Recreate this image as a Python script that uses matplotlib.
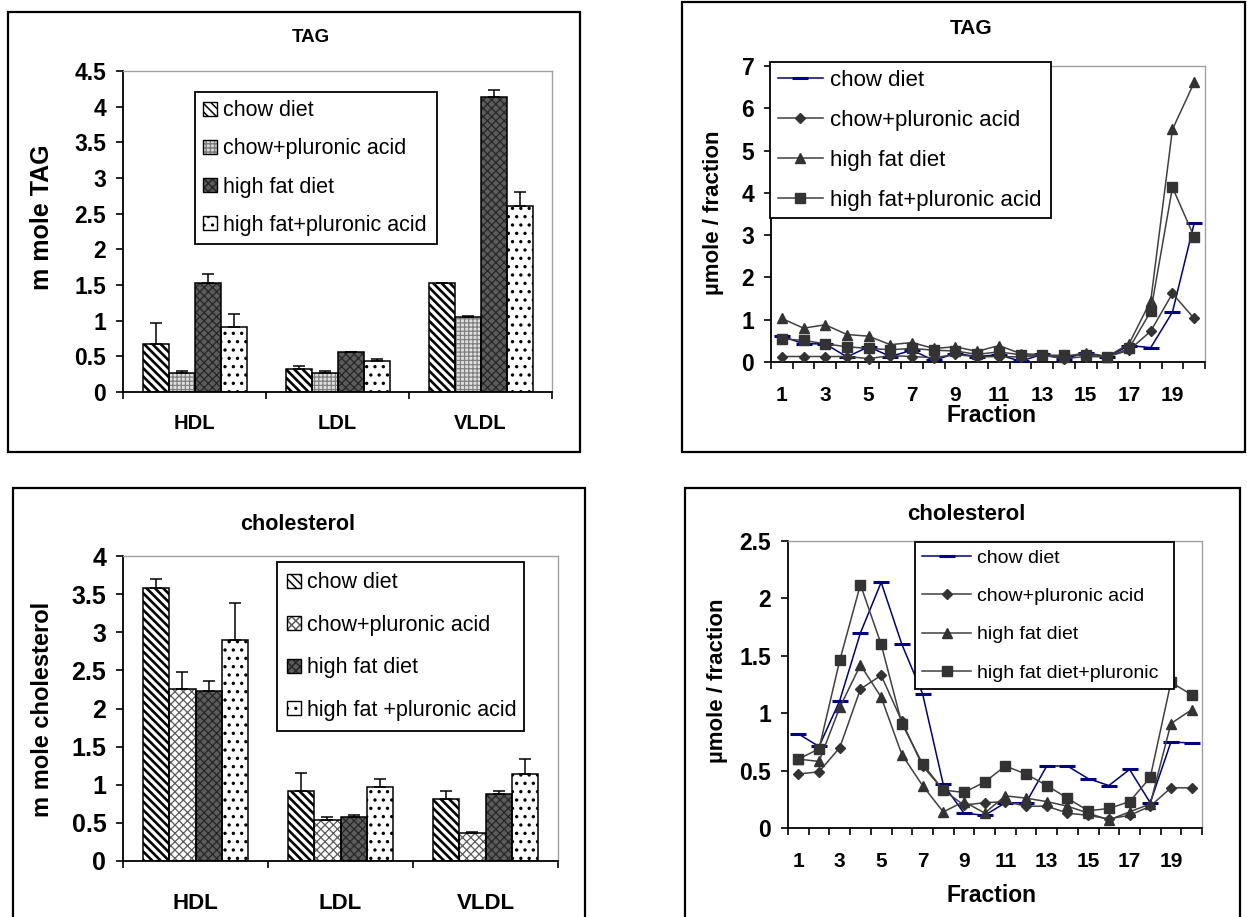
import numpy as np
import matplotlib
matplotlib.use("Agg")
import matplotlib.pyplot as plt
from matplotlib.patches import Rectangle, Patch
from matplotlib.legend_handler import HandlerTuple

plt.rcParams['font.family'] = ['Liberation Sans', 'DejaVu Sans']
plt.rcParams['hatch.linewidth'] = 1.1

# ---------------- data ----------------
series = ['chow diet', 'chow+pluronic acid', 'high fat diet', 'high fat+pluronic acid']
series_chol_bar = ['chow diet', 'chow+pluronic acid', 'high fat diet', 'high fat +pluronic acid']
series_chol_line = ['chow diet', 'chow+pluronic acid', 'high fat diet', 'high fat diet+pluronic']
classes = ['HDL', 'LDL', 'VLDL']

tag_chow = [0.67, 0.32, 1.53]
tag_chow_err = [0.30, 0.04, 0.0]
tag_chowp = [0.27, 0.27, 1.05]
tag_chowp_err = [0.02, 0.02, 0.02]
tag_hf = [1.53, 0.56, 4.14]
tag_hf_err = [0.12, 0.0, 0.09]
tag_hfp = [0.91, 0.44, 2.61]
tag_hfp_err = [0.19, 0.02, 0.19]

chol_chow = [3.58, 0.92, 0.81]
chol_chow_err = [0.12, 0.24, 0.11]
chol_chowp = [2.25, 0.54, 0.37]
chol_chowp_err = [0.23, 0.035, 0.015]
chol_hf = [2.23, 0.58, 0.88]
chol_hf_err = [0.13, 0.02, 0.04]
chol_hfp = [2.90, 0.97, 1.14]
chol_hfp_err = [0.48, 0.11, 0.20]

fractions = list(range(1, 21))
frac_tick_labels = ['1', '3', '5', '7', '9', '11', '13', '15', '17', '19']

tagf_chow = [0.61, 0.43, 0.43, 0.12, 0.36, 0.13, 0.28, 0.04, 0.20, 0.13,
             0.17, 0.02, 0.18, 0.08, 0.21, 0.12, 0.39, 0.34, 1.18, 3.28]
tagf_chowp = [0.13, 0.13, 0.13, 0.13, 0.08, 0.15, 0.13, 0.10, 0.18, 0.12,
              0.13, 0.12, 0.16, 0.08, 0.13, 0.12, 0.28, 0.73, 1.62, 1.03]
tagf_hf = [1.03, 0.80, 0.88, 0.65, 0.61, 0.41, 0.46, 0.32, 0.36, 0.25,
           0.39, 0.20, 0.17, 0.12, 0.22, 0.13, 0.43, 1.45, 5.50, 6.61]
tagf_hfp = [0.55, 0.51, 0.43, 0.36, 0.32, 0.29, 0.32, 0.28, 0.26, 0.18,
            0.24, 0.17, 0.16, 0.16, 0.16, 0.12, 0.32, 1.20, 4.13, 2.96]

cholf_chow = [0.82, 0.71, 1.11, 1.70, 2.14, 1.60, 1.17, 0.38, 0.13, 0.11,
              0.22, 0.22, 0.54, 0.54, 0.43, 0.37, 0.51, 0.22, 0.75, 0.74]
cholf_chowp = [0.47, 0.49, 0.70, 1.21, 1.33, 0.93, 0.54, 0.33, 0.20, 0.22,
               0.23, 0.19, 0.19, 0.13, 0.11, 0.08, 0.11, 0.19, 0.35, 0.35]
cholf_hf = [0.60, 0.58, 1.05, 1.42, 1.14, 0.64, 0.37, 0.14, 0.23, 0.13,
            0.28, 0.26, 0.23, 0.19, 0.13, 0.07, 0.14, 0.21, 0.91, 1.03]
cholf_hfp = [0.60, 0.69, 1.46, 2.12, 1.60, 0.91, 0.56, 0.33, 0.31, 0.40,
             0.54, 0.47, 0.37, 0.26, 0.15, 0.17, 0.23, 0.44, 1.27, 1.16]

tag_bar_yticks = [0, 0.5, 1, 1.5, 2, 2.5, 3, 3.5, 4, 4.5]
tag_bar_ylabels = ['0', '0.5', '1', '1.5', '2', '2.5', '3', '3.5', '4', '4.5']
chol_bar_yticks = [0, 0.5, 1, 1.5, 2, 2.5, 3, 3.5, 4]
chol_bar_ylabels = ['0', '0.5', '1', '1.5', '2', '2.5', '3', '3.5', '4']
tag_line_yticks = [0, 1, 2, 3, 4, 5, 6, 7]
tag_line_ylabels = ['0', '1', '2', '3', '4', '5', '6', '7']
chol_line_yticks = [0, 0.5, 1, 1.5, 2, 2.5]
chol_line_ylabels = ['0', '0.5', '1', '1.5', '2', '2.5']

# ---------------- figure ----------------
W, H = 1247, 917
fig = plt.figure(figsize=(W / 100, H / 100), dpi=100)
fig.patch.set_facecolor('white')


def fx(x):
    return x / W


def fy(y):
    return 1 - y / H


def axes_px(l, t, r, b):
    return fig.add_axes([fx(l), fy(b), (r - l) / W, (b - t) / H])


def box(l, t, r, b):
    fig.add_artist(Rectangle((fx(l), fy(b)), (r - l) / W, (b - t) / H,
                             transform=fig.transFigure, fill=False,
                             edgecolor='black', linewidth=1.6))


def style_spines(ax):
    for s in ['top', 'right']:
        ax.spines[s].set_color('#a0a0a0')
        ax.spines[s].set_linewidth(1.0)
    for s in ['left', 'bottom']:
        ax.spines[s].set_color('black')
        ax.spines[s].set_linewidth(1.3)


box(8, 12, 580, 452)
box(682, 2, 1245, 452)
box(13, 488, 585, 930)
box(685, 488, 1240, 930)

# bar pattern styles: (facecolor, hatch, hatchcolor, hatch linewidth)
tag_styles = [('white', '\\\\\\\\', 'black', 1.9),
              ('#e0e0e0', '++++', '#808080', 0.9),
              ('#5c5c5c', 'xxxx', '#262626', 0.9),
              ('white', '..', 'black', 1.2)]
chol_styles = [('white', '\\\\\\\\', 'black', 1.9),
               ('white', 'xxxx', '#5a5a5a', 0.9),
               ('#5c5c5c', 'xxxx', '#262626', 0.9),
               ('white', '..', 'black', 1.2)]


def bar_chart(ax, vals, errs, labels, styles, yticks, ylabels, ymax,
              ytick_fs, xtick_fs, xpad, leg_box, leg_fs, leg_ls, leg_bp):
    n = len(vals)
    width = 1 / 5.5
    x = np.arange(len(classes))
    handles = []
    for i, (v, e, st) in enumerate(zip(vals, errs, styles)):
        pos = x + (i - (n - 1) / 2) * width
        fc, hatch, hc, hlw = st
        with plt.rc_context({'hatch.linewidth': hlw}):
            ax.bar(pos, v, width, color=fc, hatch=hatch, edgecolor=hc,
                   linewidth=0, zorder=2)
            hpatch = Patch(facecolor=fc, hatch=hatch, edgecolor=hc, linewidth=0)
        ax.bar(pos, v, width, fill=False, edgecolor='black', linewidth=1.1,
               zorder=3)
        ax.errorbar(pos, v, yerr=[np.zeros(len(e)), e], fmt='none',
                    ecolor='black', elinewidth=1.1, capsize=4.5, capthick=1.1,
                    zorder=4)
        handles.append((hpatch, Patch(fill=False, edgecolor='black', linewidth=1.0)))
    ax.set_xlim(-0.5, len(classes) - 0.5)
    ax.set_ylim(0, ymax)
    ax.set_xticks(np.arange(-0.5, len(classes), 1.0))
    ax.set_xticklabels([])
    ax.set_xticks(x, minor=True)
    ax.set_xticklabels(classes, minor=True, fontsize=xtick_fs, fontweight='bold')
    ax.tick_params(axis='x', which='major', direction='out', length=5, width=1.2)
    ax.tick_params(axis='x', which='minor', length=0, pad=xpad)
    ax.set_yticks(yticks)
    ax.set_yticklabels(ylabels, fontsize=ytick_fs, fontweight='bold')
    ax.tick_params(axis='y', direction='out', length=5, width=1.2, pad=7)
    style_spines(ax)
    l, t, r, b = leg_box
    leg = ax.legend(handles, labels, handler_map={tuple: HandlerTuple(ndivide=1)},
                    loc='upper left', bbox_to_anchor=(fx(l), fy(b), (r - l) / W, (b - t) / H),
                    bbox_transform=fig.transFigure, mode='expand',
                    fontsize=leg_fs, handlelength=0.62, handleheight=0.62,
                    handletextpad=0.3, labelspacing=leg_ls, borderpad=leg_bp,
                    borderaxespad=0, fancybox=False, framealpha=1,
                    edgecolor='black')
    leg.get_frame().set_linewidth(1.3)
    leg.set_zorder(10)


def line_chart(ax, ys, labels, yticks, ylabels, ymax, ytick_fs, xtick_fs,
               xpad, leg_box, leg_fs, leg_ls, leg_bp, leg_hl):
    x = np.array(fractions)
    styles = [dict(color='#000080', marker='_', markersize=11, markeredgewidth=2.2,
                   markeredgecolor='#000080'),
              dict(color='#404040', marker='D', markersize=5.5,
                   markerfacecolor='#333333', markeredgecolor='#333333'),
              dict(color='#404040', marker='^', markersize=7.5,
                   markerfacecolor='#333333', markeredgecolor='#333333'),
              dict(color='#404040', marker='s', markersize=6.5,
                   markerfacecolor='#333333', markeredgecolor='#333333')]
    for y, lab, st in zip(ys, labels, styles):
        ax.plot(x, y, linewidth=1.1, label=lab, clip_on=False, zorder=3, **st)
    ax.set_xlim(0.5, 20.5)
    ax.set_ylim(0, ymax)
    ax.set_xticks(np.arange(0.5, 21, 1.0))
    ax.set_xticklabels([])
    ax.set_xticks(np.arange(1, 20, 2), minor=True)
    ax.set_xticklabels(frac_tick_labels, minor=True, fontsize=xtick_fs,
                       fontweight='bold')
    ax.tick_params(axis='x', which='major', direction='out', length=5, width=1.2)
    ax.tick_params(axis='x', which='minor', length=0, pad=xpad)
    ax.set_yticks(yticks)
    ax.set_yticklabels(ylabels, fontsize=ytick_fs, fontweight='bold')
    ax.tick_params(axis='y', direction='out', length=5, width=1.2, pad=7)
    style_spines(ax)
    l, t, r, b = leg_box
    leg = ax.legend(loc='upper left',
                    bbox_to_anchor=(fx(l), fy(b), (r - l) / W, (b - t) / H),
                    bbox_transform=fig.transFigure, mode='expand',
                    fontsize=leg_fs, handlelength=leg_hl, handletextpad=0.3,
                    labelspacing=leg_ls, borderpad=leg_bp, borderaxespad=0,
                    fancybox=False, framealpha=1, edgecolor='black')
    leg.get_frame().set_linewidth(1.3)
    leg.set_zorder(10)


# ---- top-left: TAG bars ----
ax1 = axes_px(123, 71, 552, 392)
bar_chart(ax1, [tag_chow, tag_chowp, tag_hf, tag_hfp],
          [tag_chow_err, tag_chowp_err, tag_hf_err, tag_hfp_err],
          series, tag_styles, tag_bar_yticks, tag_bar_ylabels, 4.5,
          16.5, 14.5, 16, (195, 92, 437, 242), 15.5, 0.8, 0.38)
ax1.set_ylabel('m mole TAG', fontsize=18, fontweight='bold', va='center')
ax1.yaxis.set_label_coords(fx(42), fy(217), transform=fig.transFigure)
ax1.text(fx(311), fy(37), 'TAG', transform=fig.transFigure, ha='center',
         va='center', fontsize=13.5, fontweight='bold')

# ---- top-right: TAG fractions ----
ax2 = axes_px(771, 66, 1205, 362)
line_chart(ax2, [tagf_chow, tagf_chowp, tagf_hf, tagf_hfp], series,
           tag_line_yticks, tag_line_ylabels, 7, 16.5, 15, 17,
           (770, 62, 1051, 217), 16, 0.86, 0.34, 2.05)
ax2.set_ylabel('\u00b5mole / fraction', fontsize=16, fontweight='bold', va='center')
ax2.yaxis.set_label_coords(fx(713), fy(213), transform=fig.transFigure)
ax2.set_xlabel('Fraction', fontsize=16.5, fontweight='bold', va='center')
ax2.xaxis.set_label_coords(fx(992), fy(416), transform=fig.transFigure)
ax2.text(fx(971), fy(28), 'TAG', transform=fig.transFigure, ha='center',
         va='center', fontsize=15, fontweight='bold')

# ---- bottom-left: cholesterol bars ----
ax3 = axes_px(123, 556, 558, 861)
bar_chart(ax3, [chol_chow, chol_chowp, chol_hf, chol_hfp],
          [chol_chow_err, chol_chowp_err, chol_hf_err, chol_hfp_err],
          series_chol_bar, chol_styles, chol_bar_yticks, chol_bar_ylabels, 4,
          18, 16, 23, (277, 562, 524, 731), 15.5, 1.0, 0.48)
ax3.set_ylabel('m mole cholesterol', fontsize=17, fontweight='bold', va='center')
ax3.yaxis.set_label_coords(fx(43), fy(709), transform=fig.transFigure)
ax3.text(fx(298), fy(524), 'cholesterol', transform=fig.transFigure, ha='center',
         va='center', fontsize=15.5, fontweight='bold')

# ---- bottom-right: cholesterol fractions ----
ax4 = axes_px(788, 541, 1202, 828)
line_chart(ax4, [cholf_chow, cholf_chowp, cholf_hf, cholf_hfp], series_chol_line,
           chol_line_yticks, chol_line_ylabels, 2.5, 16.5, 15, 17,
           (915, 542, 1174, 688), 14, 1.06, 0.38, 2.5)
ax4.set_ylabel('\u00b5mole / fraction', fontsize=16, fontweight='bold', va='center')
ax4.yaxis.set_label_coords(fx(718), fy(681), transform=fig.transFigure)
ax4.set_xlabel('Fraction', fontsize=16.5, fontweight='bold', va='center')
ax4.xaxis.set_label_coords(fx(992), fy(895), transform=fig.transFigure)
ax4.text(fx(966), fy(515), 'cholesterol', transform=fig.transFigure, ha='center',
         va='center', fontsize=16, fontweight='bold')

fig.savefig('out.png', dpi=100)
